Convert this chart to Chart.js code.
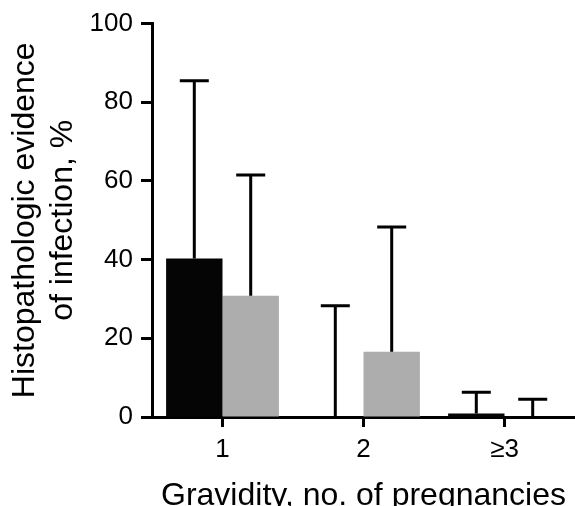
<!DOCTYPE html>
<html>
<head>
<meta charset="utf-8">
<script src="https://cdn.jsdelivr.net/npm/chart.js@4"></script>
<style>
    html, body { margin: 0; padding: 0; background: #fff; }
    #wrap { width: 575px; height: 506px; }
</style>
</head>
<body>
<div id="wrap"><canvas id="graph"></canvas></div>
<script>
const categories = ['1', '2', '\u22653'];
const blackValues = [40.3, 0, 0.9];
const blackUpper = [85.5, 28.3, 6.3];
const grayValues = [30.8, 16.6, 0];
const grayUpper = [61.5, 48.3, 4.5];
const yTicks = [0, 20, 40, 60, 80, 100];

// draws the one-sided (upper) error bars with a cap
const errorBars = {
    id: 'errorBars',
    afterDatasetsDraw(chart) {
        const c = chart.ctx;
        const y = chart.scales.y;
        c.save();
        c.strokeStyle = '#000';
        c.lineWidth = 3;
        chart.data.datasets.forEach((ds, i) => {
            const meta = chart.getDatasetMeta(i);
            meta.data.forEach((bar, j) => {
                const x = bar.x;
                const yTop = y.getPixelForValue(ds.upper[j]);
                const yBase = y.getPixelForValue(ds.data[j]);
                c.beginPath();
                c.moveTo(x, yBase);
                c.lineTo(x, yTop);
                c.moveTo(x - 14.5, yTop);
                c.lineTo(x + 14.5, yTop);
                c.stroke();
            });
        });
        c.restore();
    }
};

const ctx = document.getElementById('graph').getContext('2d');
new Chart(ctx, {
    type: 'bar',
    data: {
        labels: categories,
        datasets: [{
            data: blackValues,
            upper: blackUpper,
            backgroundColor: '#050505',
            categoryPercentage: 0.8,
            barPercentage: 1.0
        }, {
            data: grayValues,
            upper: grayUpper,
            backgroundColor: '#adadad',
            categoryPercentage: 0.8,
            barPercentage: 1.0
        }]
    },
    options: {
        responsive: true,
        maintainAspectRatio: false,
        animation: false,
        layout: { padding: { top: 17, right: -4, left: 0, bottom: 0 } },
        plugins: {
            legend: { display: false },
            tooltip: { enabled: false }
        },
        scales: {
            x: {
                grid: {
                    offset: false,
                    drawOnChartArea: false,
                    drawTicks: true,
                    tickLength: 10,
                    tickWidth: 3,
                    tickColor: '#000'
                },
                border: { color: '#000', width: 3 },
                ticks: {
                    color: '#000',
                    padding: 7,
                    font: { family: 'Liberation Sans', size: 26 }
                },
                title: {
                    display: true,
                    text: 'Gravidity, no. of pregnancies',
                    color: '#000',
                    padding: { top: 10, bottom: 0 },
                    font: { family: 'Liberation Sans', size: 32, lineHeight: 0.6 }
                },
                afterFit(axis) { axis.height = 89; }
            },
            y: {
                min: 0,
                max: 100,
                afterBuildTicks(axis) { axis.ticks = yTicks.map(v => ({ value: v })); },
                grid: {
                    drawOnChartArea: false,
                    drawTicks: true,
                    tickLength: 11,
                    tickWidth: 3,
                    tickColor: '#000'
                },
                border: { color: '#000', width: 3 },
                ticks: {
                    color: '#000',
                    padding: 8,
                    font: { family: 'Liberation Sans', size: 26 }
                },
                title: {
                    display: true,
                    text: ['Histopathologic evidence', 'of infection, %'],
                    color: '#000',
                    padding: { top: 6, bottom: 0 },
                    font: { family: 'Liberation Sans', size: 32, lineHeight: 1.2 }
                },
                afterFit(axis) { axis.width = 152; }
            }
        }
    },
    plugins: [errorBars]
});
</script>
</body>
</html>
